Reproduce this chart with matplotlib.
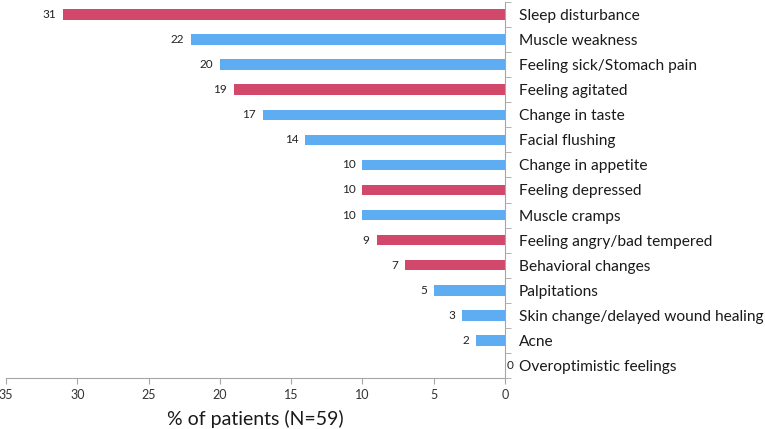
import matplotlib
matplotlib.use("Agg")
from matplotlib import pyplot as plt
from matplotlib.ticker import FixedLocator
import numpy as np

# data, top to bottom as in the chart
symptoms = ['Sleep disturbance', 'Muscle weakness', 'Feeling sick/Stomach pain',
            'Feeling agitated', 'Change in taste', 'Facial flushing',
            'Change in appetite', 'Feeling depressed', 'Muscle cramps',
            'Feeling angry/bad tempered', 'Behavioral changes', 'Palpitations',
            'Skin change/delayed wound healing', 'Acne', 'Overoptimistic feelings']
percent = [31, 22, 20, 19, 17, 14, 10, 10, 10, 9, 7, 5, 3, 2, 0]
# True = psychological symptom (red), False = physical (blue)
psych = [True, False, False, True, False, False, False, True, False,
         True, True, False, False, False, False]

RED = '#d2486a'
BLUE = '#5eacf2'
AXIS = '#a6a6a6'

plt.rcParams['font.family'] = ['Lato', 'DejaVu Sans']

fig = plt.figure(figsize=(7.65, 4.29), dpi=100)
ax = fig.add_axes([6 / 765, 1 - 378 / 429, 499 / 765, 376 / 429])

y = np.arange(len(symptoms))
colors = [RED if p else BLUE for p in psych]
ax.barh(y, percent, height=0.42, color=colors)

ax.set_xlim(35, 0)
ax.set_ylim(len(symptoms) - 0.5, -0.5)

# value labels
for yi, v in zip(y, percent):
    if v == 0:
        ax.annotate(str(v), (v, yi), xytext=(1, 0), textcoords='offset points',
                    ha='left', va='center', fontsize=8.5, color='#222222')
    else:
        ax.annotate(str(v), (v, yi), xytext=(-5, 0), textcoords='offset points',
                    ha='right', va='center', fontsize=8.5, color='#222222')

# spines
for s in ['top', 'left']:
    ax.spines[s].set_visible(False)
ax.spines['right'].set_color(AXIS)
ax.spines['bottom'].set_color(AXIS)

# category labels on the right, tick marks at category boundaries
ax.yaxis.tick_right()
ax.set_yticks(y)
ax.set_yticklabels(symptoms, fontsize=11.2, color='#1a1a1a')
ax.tick_params(axis='y', which='major', length=0, pad=10)
ax.yaxis.set_minor_locator(FixedLocator(np.arange(-0.5, len(symptoms), 1.0)))
ax.tick_params(axis='y', which='minor', length=4, color=AXIS, direction='out')

ax.set_xticks(range(0, 36, 5))
ax.tick_params(axis='x', length=4, color=AXIS, labelsize=9, labelcolor='#333333', pad=4)
ax.set_xlabel('% of patients (N=59)', fontsize=14, color='#1a1a1a', labelpad=6)

fig.savefig('out.png', dpi=100)
